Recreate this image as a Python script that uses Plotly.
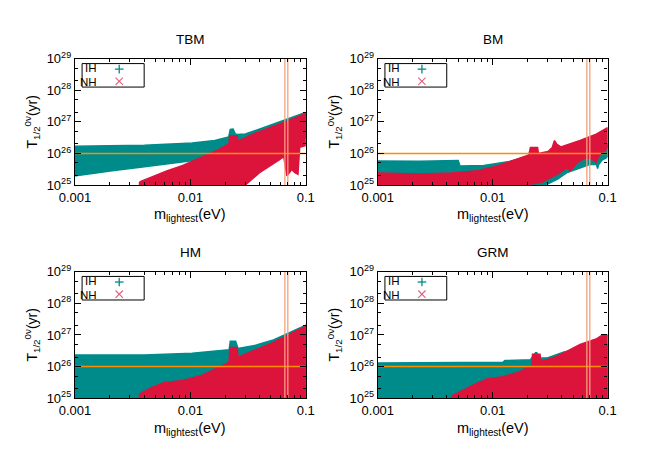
import plotly.graph_objects as go

# ---------------- data (m_lightest in eV, log10 of T_1/2 in yr) ----------------
panels = ["TBM", "BM", "HM", "GRM"]

# TBM
tbm_ih_top_x = [0.001, 0.004, 0.0104, 0.0163, 0.0215, 0.0222, 0.0235, 0.0245, 0.0255, 0.030, 0.0374, 0.0515, 0.0709, 0.1]
tbm_ih_top = [26.23, 26.26, 26.33, 26.41, 26.52, 26.76, 26.77, 26.62, 26.60, 26.62, 26.74, 26.92, 27.10, 27.30]
tbm_ih_bot_x = [0.001, 0.0021, 0.004, 0.0076, 0.012, 0.0272, 0.1]
tbm_ih_bot = [25.29, 25.45, 25.58, 25.70, 25.80, 26.0, 26.5]
tbm_nh_top_x = [0.00363, 0.00454, 0.00625, 0.0086, 0.0126, 0.0174, 0.0217, 0.0219, 0.0255, 0.0258, 0.0374, 0.0515, 0.0709, 0.1]
tbm_nh_top = [25.10, 25.24, 25.45, 25.62, 25.88, 26.11, 26.31, 26.56, 26.56, 26.39, 26.66, 26.85, 27.04, 27.27]
tbm_nh_bot_x = [0.00363, 0.0299, 0.0398, 0.0482, 0.0585, 0.0645, 0.0688, 0.0758, 0.0806, 0.0857, 0.0887, 0.1]
tbm_nh_bot = [25.0, 25.0, 25.39, 25.59, 25.79, 25.90, 25.29, 25.49, 25.39, 25.34, 26.2, 26.25]

# BM
bm_ih_top_x = [0.001, 0.00232, 0.00501, 0.0052, 0.00838, 0.0140, 0.0206, 0.0303, 0.0965, 0.1]
bm_ih_top = [25.76, 25.75, 25.78, 25.60, 25.62, 25.75, 25.92, 26.0, 26.3, 26.3]
bm_ih_bot_x = [0.001, 0.0116, 0.0181, 0.0266, 0.0303, 0.0367, 0.0445, 0.0576, 0.0698, 0.0800, 0.0818, 0.0836, 0.0901, 0.0965, 0.1]
bm_ih_bot = [25.2, 25.1, 25.0, 25.0, 25.04, 25.19, 25.40, 25.55, 25.65, 25.65, 25.52, 25.65, 25.80, 25.85, 25.9]
bm_nh_top_x = [0.001, 0.00232, 0.0044, 0.00738, 0.01084, 0.0159, 0.0206, 0.0213, 0.0246, 0.0250, 0.0303, 0.0330, 0.0345, 0.0360, 0.0392, 0.0576, 0.0795, 0.1]
bm_nh_top = [25.38, 25.35, 25.38, 25.45, 25.60, 25.80, 25.95, 26.19, 26.19, 26.00, 26.06, 26.19, 26.41, 26.30, 26.21, 26.41, 26.61, 26.82]
bm_nh_bot_x = [0.001, 0.0193, 0.0266, 0.0303, 0.0367, 0.0445, 0.0474, 0.0540, 0.0655, 0.0745, 0.0795, 0.0846, 0.0965, 0.1]
bm_nh_bot = [25.0, 25.0, 25.09, 25.21, 25.35, 25.55, 25.45, 25.70, 25.88, 25.80, 25.72, 25.95, 26.11, 26.2]

# HM
hm_ih_top_x = [0.001, 0.004, 0.0104, 0.0144, 0.0217, 0.0222, 0.0247, 0.0259, 0.0374, 0.0515, 0.0709, 0.1]
hm_ih_top = [26.37, 26.37, 26.42, 26.47, 26.53, 26.80, 26.80, 26.57, 26.68, 26.83, 27.06, 27.31]
hm_ih_bot_x = [0.001, 0.1]
hm_ih_bot = [25.0, 25.0]
hm_nh_top_x = [0.00363, 0.00454, 0.00586, 0.0086, 0.0126, 0.0163, 0.0217, 0.0220, 0.0255, 0.0259, 0.0374, 0.0515, 0.0709, 0.1]
hm_nh_top = [25.13, 25.33, 25.49, 25.56, 25.72, 25.92, 26.14, 26.60, 26.60, 26.30, 26.53, 26.75, 27.0, 27.28]
hm_nh_bot_x = [0.00363, 0.1]
hm_nh_bot = [25.0, 25.0]

# GRM
grm_ih_top_x = [0.001, 0.0123, 0.0128, 0.0213, 0.0236, 0.0242, 0.0250, 0.0303, 0.0418, 0.1]
grm_ih_top = [26.11, 26.14, 26.19, 26.22, 26.44, 26.44, 26.26, 26.28, 26.46, 26.7]
grm_ih_bot_x = [0.001, 0.1]
grm_ih_bot = [25.0, 25.0]
grm_nh_top_x = [0.0044, 0.0053, 0.0069, 0.0089, 0.0123, 0.0170, 0.0220, 0.0222, 0.0258, 0.0262, 0.0344, 0.0445, 0.0576, 0.0794, 0.090, 0.1]
grm_nh_top = [25.07, 25.22, 25.43, 25.61, 25.68, 25.83, 26.04, 26.39, 26.39, 26.16, 26.29, 26.49, 26.70, 26.87, 27.0, 27.0]
grm_nh_bot_x = [0.0044, 0.1]
grm_nh_bot = [25.0, 25.0]

# reference lines
t_limit = 1e26                 # horizontal experimental bound
m_bounds = [0.066, 0.070]      # vertical bounds on m_lightest
x_range = [0.001, 0.1]
y_range = [1e25, 1e29]

x_tickvals = [0.001, 0.01, 0.1]
x_ticktext = ["0.001", "0.01", "0.1"]
y_tickvals = [1e25, 1e26, 1e27, 1e28, 1e29]
y_ticktext = ["10<sup>25</sup>", "10<sup>26</sup>", "10<sup>27</sup>", "10<sup>28</sup>", "10<sup>29</sup>"]

data = {
    "TBM": (tbm_ih_top_x, tbm_ih_top, tbm_ih_bot_x, tbm_ih_bot, tbm_nh_top_x, tbm_nh_top, tbm_nh_bot_x, tbm_nh_bot),
    "BM": (bm_ih_top_x, bm_ih_top, bm_ih_bot_x, bm_ih_bot, bm_nh_top_x, bm_nh_top, bm_nh_bot_x, bm_nh_bot),
    "HM": (hm_ih_top_x, hm_ih_top, hm_ih_bot_x, hm_ih_bot, hm_nh_top_x, hm_nh_top, hm_nh_bot_x, hm_nh_bot),
    "GRM": (grm_ih_top_x, grm_ih_top, grm_ih_bot_x, grm_ih_bot, grm_nh_top_x, grm_nh_top, grm_nh_bot_x, grm_nh_bot),
}

# ---------------- styling ----------------
W, H = 649, 460
TEAL = "#008b8b"
CRIMSON = "#dc143c"
PINK = "#e0607c"
FONT = "Liberation Sans, Arial, Helvetica, sans-serif"

xdoms = {"TBM": [61.3 / W, 301.3 / W], "BM": [376.3 / W, 615.3 / W],
         "HM": [61.3 / W, 301.3 / W], "GRM": [376.3 / W, 615.3 / W]}
ydoms = {"TBM": [1 - 182.8 / H, 1 - 51.7 / H], "BM": [1 - 182.8 / H, 1 - 51.7 / H],
         "HM": [1 - 404.2 / H, 1 - 272.7 / H], "GRM": [1 - 404.2 / H, 1 - 272.7 / H]}

fig = go.Figure()
layout = dict(width=W, height=H, margin=dict(l=0, r=0, t=0, b=0),
              paper_bgcolor="white", plot_bgcolor="white", showlegend=False,
              font=dict(family=FONT, size=13, color="black"))
annotations = []
shapes = []


def poly(xt, yt, xb, yb):
    xs = list(xt) + list(reversed(xb))
    ys = [10 ** v for v in yt] + [10 ** v for v in reversed(yb)]
    return xs + [xs[0]], ys + [ys[0]]


for i, name in enumerate(panels, start=1):
    xa = "x" if i == 1 else f"x{i}"
    ya = "y" if i == 1 else f"y{i}"
    ihx_t, ihy_t, ihx_b, ihy_b, nhx_t, nhy_t, nhx_b, nhy_b = data[name]

    px, py = poly(ihx_t, ihy_t, ihx_b, ihy_b)
    fig.add_trace(go.Scatter(x=px, y=py, xaxis=xa, yaxis=ya, mode="lines", fill="toself",
                             fillcolor=TEAL, line=dict(color=TEAL, width=1.5), hoverinfo="skip"))
    px, py = poly(nhx_t, nhy_t, nhx_b, nhy_b)
    fig.add_trace(go.Scatter(x=px, y=py, xaxis=xa, yaxis=ya, mode="lines", fill="toself",
                             fillcolor=CRIMSON, line=dict(color=CRIMSON, width=1.5), hoverinfo="skip"))
    # horizontal bound
    fig.add_trace(go.Scatter(x=x_range, y=[t_limit, t_limit], xaxis=xa, yaxis=ya, mode="lines",
                             line=dict(color="#ff8c00", width=1.5), hoverinfo="skip"))
    # vertical bounds
    for m in m_bounds:
        fig.add_trace(go.Scatter(x=[m, m], y=y_range, xaxis=xa, yaxis=ya, mode="lines",
                                 line=dict(color="#f4a07c", width=1.3), hoverinfo="skip"))

    axkey = "xaxis" if i == 1 else f"xaxis{i}"
    aykey = "yaxis" if i == 1 else f"yaxis{i}"
    layout[axkey] = dict(type="log", range=[-3, -1], domain=xdoms[name], anchor=ya,
                         tickvals=x_tickvals, ticktext=x_ticktext,
                         ticks="inside", ticklen=6, tickwidth=1, tickcolor="black",
                         showline=True, linecolor="black", linewidth=1.2, mirror="allticks",
                         showgrid=False, zeroline=False,
                         minor=dict(ticks="inside", ticklen=3, tickcolor="black", dtick="D1", showgrid=False),
                         tickfont=dict(size=13, family=FONT, color="black"))
    layout[aykey] = dict(type="log", range=[25, 29], domain=ydoms[name], anchor=xa,
                         tickvals=y_tickvals, ticktext=y_ticktext,
                         ticks="inside", ticklen=6, tickwidth=1, tickcolor="black",
                         showline=True, linecolor="black", linewidth=1.2, mirror="allticks",
                         showgrid=False, zeroline=False,
                         minor=dict(ticks="inside", ticklen=3, tickcolor="black", dtick="D2", showgrid=False),
                         tickfont=dict(size=13, family=FONT, color="black"))

    xc = sum(xdoms[name]) / 2
    ytop = ydoms[name][1]
    ybot = ydoms[name][0]
    # title
    annotations.append(dict(text=name, x=xc, y=ytop + 20 / H, xref="paper", yref="paper",
                            showarrow=False, font=dict(size=13.5), xanchor="center", yanchor="middle"))
    # x label
    annotations.append(dict(text="m<sub>lightest</sub>(eV)", x=xc, y=ybot - 20 / H, xref="paper", yref="paper",
                            showarrow=False, font=dict(size=14.5), xanchor="center", yanchor="top"))
    # y label
    annotations.append(dict(text="T<sub>1/2</sub><sup>0ν</sup>(yr)", x=xdoms[name][0] - 45 / W,
                            y=(ytop + ybot) / 2, xref="paper", yref="paper", textangle=-90,
                            showarrow=False, font=dict(size=14), xanchor="center", yanchor="middle"))
    # legend box
    xdref = f"{xa} domain"
    ydref = f"{ya} domain"
    shapes.append(dict(type="rect", xref=xdref, yref=ydref, x0=0.031, x1=0.30, y0=0.776, y1=0.962,
                       line=dict(color="black", width=1), fillcolor="white", layer="above"))
    annotations.append(dict(text="IH", x=0.10, y=0.924, xref=xdref, yref=ydref, showarrow=False,
                            xanchor="right", yanchor="middle", borderpad=0, font=dict(size=11.5)))
    annotations.append(dict(text="NH", x=0.10, y=0.815, xref=xdref, yref=ydref, showarrow=False,
                            xanchor="right", yanchor="middle", borderpad=0, font=dict(size=11.5)))
    # legend symbols drawn as line shapes: '+' (IH) and 'x' (NH)
    sx, sy0, sy1 = 0.192, 0.918, 0.822
    hx, hy = 4.5 / 240, 4.5 / 131
    shapes.append(dict(type="line", xref=xdref, yref=ydref, x0=sx - hx, x1=sx + hx, y0=sy0, y1=sy0,
                       line=dict(color=TEAL, width=1.3), layer="above"))
    shapes.append(dict(type="line", xref=xdref, yref=ydref, x0=sx, x1=sx, y0=sy0 - hy, y1=sy0 + hy,
                       line=dict(color=TEAL, width=1.3), layer="above"))
    dx, dy = 3.8 / 240, 3.8 / 131
    shapes.append(dict(type="line", xref=xdref, yref=ydref, x0=sx - dx, x1=sx + dx, y0=sy1 - dy, y1=sy1 + dy,
                       line=dict(color=PINK, width=1.1), layer="above"))
    shapes.append(dict(type="line", xref=xdref, yref=ydref, x0=sx - dx, x1=sx + dx, y0=sy1 + dy, y1=sy1 - dy,
                       line=dict(color=PINK, width=1.1), layer="above"))

layout["annotations"] = annotations
layout["shapes"] = shapes
fig.update_layout(**layout)
fig.write_html("out.html")
